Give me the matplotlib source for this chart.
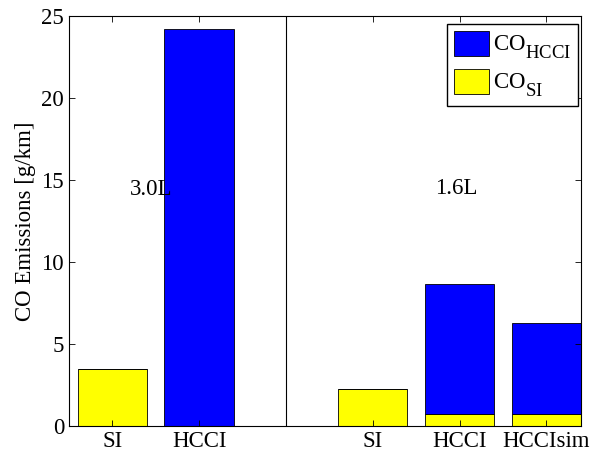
import matplotlib
import matplotlib.pyplot as plt
import matplotlib._mathtext as mt

plt.rcParams['font.family'] = ['Liberation Serif', 'DejaVu Serif']
plt.rcParams['mathtext.fontset'] = 'custom'
plt.rcParams['mathtext.rm'] = 'Liberation Serif'
plt.rcParams['mathtext.it'] = 'Liberation Serif:italic'
# MATLAB-like subscripts: a bit bigger and lower than the mathtext default
mt.SHRINK_FACTOR = 0.82
mt.FontConstantsBase.sub1 = 0.75

# bar positions and labels
positions = [1, 2, 4, 5, 6]
tick_labels = ['SI', 'HCCI', 'SI', 'HCCI', 'HCCIsim']
# stacked components (g/km)
co_si = [3.5, 0.0, 2.24, 0.73, 0.73]
co_hcci = [0.0, 24.2, 0.0, 7.91, 5.57]

fs = 16.5

fig = plt.figure(figsize=(5.98, 4.55), dpi=100)
ax = fig.add_axes([69 / 598, 29 / 455, 512 / 598, 410 / 455])

b_si = ax.bar(positions, co_si, width=0.8, color='#ffff00', edgecolor='black', linewidth=0.6)
b_hcci = ax.bar(positions, co_hcci, width=0.8, bottom=co_si, color='#0000ff',
                edgecolor='black', linewidth=0.6)

# divider between the two engines
ax.plot([3, 3], [0, 25], color='black', linewidth=0.8)
ax.text(1.2, 14.4, '3.0L', fontsize=fs, va='center', ha='left')
ax.text(4.72, 14.5, '1.6L', fontsize=fs, va='center', ha='left')

ax.set_xlim(0.5, 6.4)
ax.set_ylim(0, 25)
ax.set_xticks(positions)
ax.set_xticklabels(tick_labels)
ax.set_yticks([0, 5, 10, 15, 20, 25])
ax.tick_params(direction='in', top=True, right=True, length=4, width=0.6, labelsize=fs, pad=3.5)
for s in ax.spines.values():
    s.set_linewidth(0.8)
ax.set_ylabel('CO Emissions [g/km]', fontsize=fs, labelpad=4)

leg = ax.legend([b_hcci, b_si], [r'CO$_{\mathrm{HCCI}}$', r'CO$_{\mathrm{SI}}$'],
                loc='upper right', bbox_to_anchor=(0.994, 0.9805), fontsize=fs,
                fancybox=False, framealpha=1, edgecolor='black', borderaxespad=0,
                handlelength=1.55, handleheight=1.3, handletextpad=0.15,
                labelspacing=0.34, borderpad=0.3)
leg.get_frame().set_linewidth(1.0)

fig.savefig('out.png', dpi=100)
